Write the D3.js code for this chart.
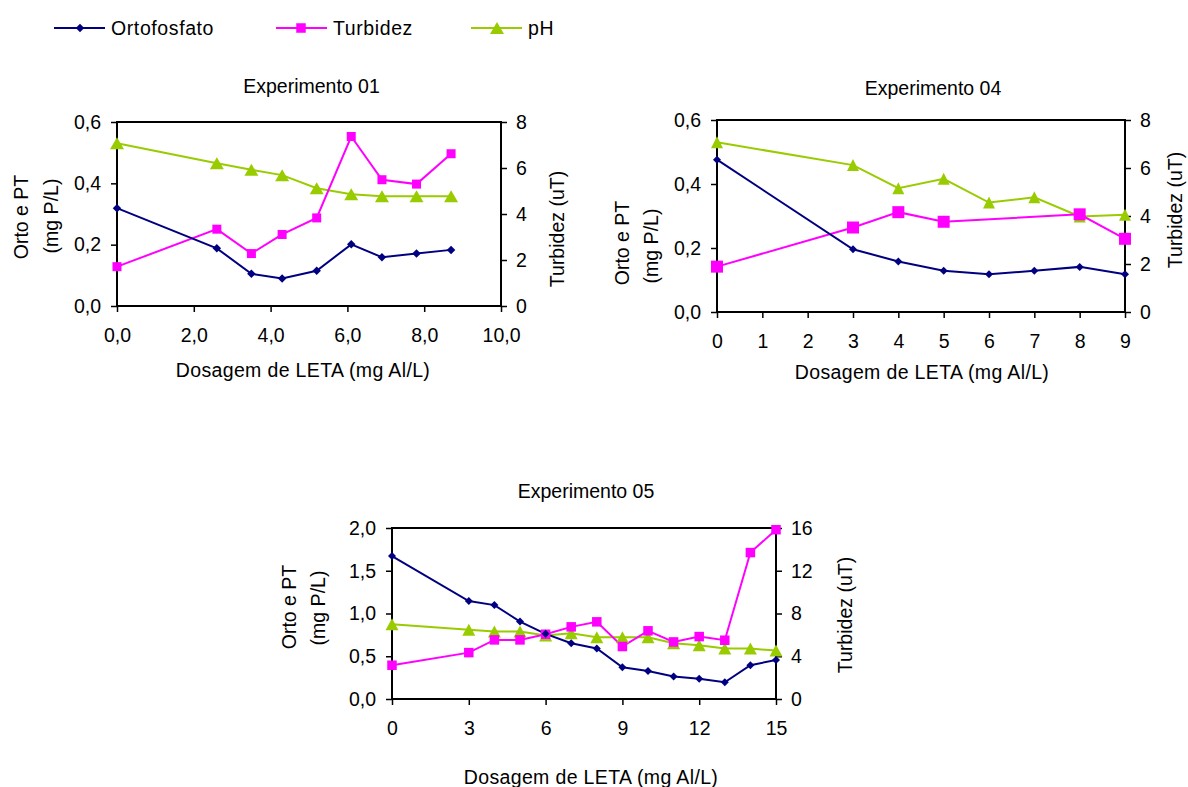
<!DOCTYPE html>
<html>
<head>
<meta charset="utf-8">
<script src="https://cdn.jsdelivr.net/npm/d3@7"></script>
<style>
  html, body { margin: 0; padding: 0; background: #fff; }
  svg { display: block; }
  text { font-family: "Liberation Sans", Arial, sans-serif; fill: #000; }
</style>
</head>
<body>
<svg id="chart" width="1188" height="787"></svg>
<script>
// ---------------- DATA ----------------
const seriesNames = ["Ortofosfato", "Turbidez", "pH"];
const chartTitles = ["Experimento 01", "Experimento 04", "Experimento 05"];
const xAxisTitle = "Dosagem de LETA (mg Al/L)";
const leftAxisTitle = ["Orto e PT", "(mg P/L)"];
const rightAxisTitle = "Turbidez (uT)";

// Experimento 01
const exp01Dose = [0, 2.6, 3.5, 4.3, 5.2, 6.1, 6.9, 7.8, 8.7];
const exp01Orto = [0.319, 0.188, 0.105, 0.090, 0.115, 0.201, 0.159, 0.171, 0.183];
const exp01Turb = [1.71, 3.34, 2.28, 3.11, 3.83, 7.37, 5.49, 5.30, 6.62];
const exp01PH   = [7.08, 6.21, 5.92, 5.69, 5.12, 4.86, 4.77, 4.77, 4.77];
const exp01XTicks = [0, 2, 4, 6, 8, 10];
const exp01LeftTicks = [0, 0.2, 0.4, 0.6];
const exp01RightTicks = [0, 2, 4, 6, 8];

// Experimento 04
const exp04Dose = [0, 3, 4, 5, 6, 7, 8, 9];
const exp04Orto = [0.476, 0.196, 0.158, 0.129, 0.118, 0.129, 0.141, 0.118];
const exp04TurbDose = [0, 3, 4, 5, 8, 9];
const exp04Turb = [1.89, 3.52, 4.16, 3.76, 4.07, 3.05];
const exp04PH   = [7.07, 6.12, 5.16, 5.55, 4.56, 4.78, 3.98, 4.05];
const exp04XTicks = [0, 1, 2, 3, 4, 5, 6, 7, 8, 9];
const exp04LeftTicks = [0, 0.2, 0.4, 0.6];
const exp04RightTicks = [0, 2, 4, 6, 8];

// Experimento 05
const exp05Dose = [0, 3, 4, 5, 6, 7, 8, 9, 10, 11, 12, 13, 14, 15];
const exp05Orto = [1.672, 1.145, 1.098, 0.906, 0.762, 0.652, 0.590, 0.371, 0.328, 0.262, 0.238, 0.195, 0.395, 0.457];
const exp05Turb = [3.16, 4.34, 5.53, 5.53, 6.06, 6.75, 7.22, 4.91, 6.38, 5.34, 5.84, 5.50, 13.70, 15.84];
const exp05PH   = [7.00, 6.47, 6.31, 6.31, 5.94, 6.16, 5.78, 5.78, 5.78, 5.22, 5.03, 4.72, 4.72, 4.53];
const exp05XTicks = [0, 3, 6, 9, 12, 15];
const exp05LeftTicks = [0, 0.5, 1.0, 1.5, 2.0];
const exp05RightTicks = [0, 4, 8, 12, 16];

// ---------------- STYLE ----------------
const COLORS = { orto: "#000080", turb: "#FF00FF", ph: "#99CC00" };
const FONT = 19.5;
const svg = d3.select("#chart");

const comma1 = d => d3.format(".1f")(d).replace(".", ",");
const intFmt = d => d3.format("d")(d);

function marker(g, type, x, y, size, color) {
  if (type === "diamond") {
    const h = size / 2;
    g.append("path").attr("d", `M${x},${y - h}L${x + h},${y}L${x},${y + h}L${x - h},${y}Z`).attr("fill", color);
  } else if (type === "square") {
    g.append("rect").attr("x", x - size / 2).attr("y", y - size / 2).attr("width", size).attr("height", size).attr("fill", color);
  } else {
    const w = size.w, h = size.h;
    g.append("path").attr("d", `M${x},${y - h / 2}L${x + w / 2},${y + h / 2}L${x - w / 2},${y + h / 2}Z`).attr("fill", color);
  }
}

function drawChart(cfg) {
  const g = svg.append("g");
  const x = d3.scaleLinear().domain(cfg.xDomain).range([cfg.x0, cfg.x1]);
  const yL = d3.scaleLinear().domain(cfg.leftDomain).range([cfg.y1, cfg.y0]);
  const yR = d3.scaleLinear().domain(cfg.rightDomain).range([cfg.y1, cfg.y0]);

  const ax = g.append("g").attr("transform", `translate(0,${cfg.y1})`)
    .call(d3.axisBottom(x).tickValues(cfg.xTicks).tickFormat(cfg.xFmt).tickSizeInner(6).tickSizeOuter(0).tickPadding(16));
  const al = g.append("g").attr("transform", `translate(${cfg.x0},0)`)
    .call(d3.axisLeft(yL).tickValues(cfg.leftTicks).tickFormat(comma1).tickSizeInner(6).tickSizeOuter(0).tickPadding(10));
  const ar = g.append("g").attr("transform", `translate(${cfg.x1},0)`)
    .call(d3.axisRight(yR).tickValues(cfg.rightTicks).tickFormat(intFmt).tickSizeInner(6).tickSizeOuter(0).tickPadding(9));
  [ax, al, ar].forEach(a => {
    a.attr("font-size", null).attr("font-family", null);
    a.select(".domain").remove();
    a.selectAll(".tick line").attr("stroke", "#000").attr("stroke-width", 1.5);
    a.selectAll(".tick text").style("font-size", FONT + "px").attr("fill", "#000");
  });

  g.append("rect").attr("x", cfg.x0).attr("y", cfg.y0)
    .attr("width", cfg.x1 - cfg.x0).attr("height", cfg.y1 - cfg.y0)
    .attr("fill", "none").attr("stroke", "#000").attr("stroke-width", 2);

  const line = (xs, ys, ysc) => d3.line().x((d, i) => x(xs[i])).y((d, i) => ysc(ys[i]))(ys);

  g.append("path").attr("d", line(cfg.phX, cfg.ph, yR)).attr("fill", "none").attr("stroke", COLORS.ph).attr("stroke-width", 2);
  g.append("path").attr("d", line(cfg.turbX, cfg.turb, yR)).attr("fill", "none").attr("stroke", COLORS.turb).attr("stroke-width", 2);
  g.append("path").attr("d", line(cfg.ortoX, cfg.orto, yL)).attr("fill", "none").attr("stroke", COLORS.orto).attr("stroke-width", 2);

  cfg.ph.forEach((v, i) => marker(g, "tri", x(cfg.phX[i]), yR(v), cfg.triSize, COLORS.ph));
  cfg.turb.forEach((v, i) => marker(g, "square", x(cfg.turbX[i]), yR(v), cfg.sqSize, COLORS.turb));
  cfg.orto.forEach((v, i) => marker(g, "diamond", x(cfg.ortoX[i]), yL(v), cfg.diaSize, COLORS.orto));

  g.append("text").attr("x", cfg.titlePos[0]).attr("y", cfg.titlePos[1]).attr("text-anchor", "middle")
    .style("font-size", FONT + "px").text(cfg.title);
  g.append("text").attr("x", cfg.xTitlePos[0]).attr("y", cfg.xTitlePos[1]).attr("text-anchor", "middle")
    .style("font-size", FONT + "px").style("letter-spacing", "0.35px").text(xAxisTitle);
  g.append("text").attr("transform", `translate(${cfg.lt1[0]},${cfg.lt1[1]}) rotate(-90)`).attr("text-anchor", "middle")
    .style("font-size", FONT + "px").text(leftAxisTitle[0]);
  g.append("text").attr("transform", `translate(${cfg.lt2[0]},${cfg.lt2[1]}) rotate(-90)`).attr("text-anchor", "middle")
    .style("font-size", FONT + "px").text(leftAxisTitle[1]);
  g.append("text").attr("transform", `translate(${cfg.rt[0]},${cfg.rt[1]}) rotate(-90)`).attr("text-anchor", "middle")
    .style("font-size", FONT + "px").text(rightAxisTitle);
}

drawChart({
  x0: 117, x1: 501, y0: 122, y1: 306,
  xDomain: [0, 10], leftDomain: [0, 0.6], rightDomain: [0, 8],
  xTicks: exp01XTicks, xFmt: comma1, leftTicks: exp01LeftTicks, rightTicks: exp01RightTicks,
  ortoX: exp01Dose, orto: exp01Orto, turbX: exp01Dose, turb: exp01Turb, phX: exp01Dose, ph: exp01PH,
  triSize: { w: 14, h: 12 }, sqSize: 9, diaSize: 8.5,
  title: chartTitles[0], titlePos: [311.5, 93],
  xTitlePos: [303, 377],
  lt1: [28, 217], lt2: [58, 216], rt: [564, 229]
});

drawChart({
  x0: 717, x1: 1125, y0: 120, y1: 312,
  xDomain: [0, 9], leftDomain: [0, 0.6], rightDomain: [0, 8],
  xTicks: exp04XTicks, xFmt: intFmt, leftTicks: exp04LeftTicks, rightTicks: exp04RightTicks,
  ortoX: exp04Dose, orto: exp04Orto, turbX: exp04TurbDose, turb: exp04Turb, phX: exp04Dose, ph: exp04PH,
  triSize: { w: 12, h: 12 }, sqSize: 12, diaSize: 8,
  title: chartTitles[1], titlePos: [933, 95],
  xTitlePos: [922, 379],
  lt1: [629, 243], lt2: [658, 246], rt: [1182, 210]
});

drawChart({
  x0: 392, x1: 776, y0: 528, y1: 699,
  xDomain: [0, 15], leftDomain: [0, 2], rightDomain: [0, 16],
  xTicks: exp05XTicks, xFmt: intFmt, leftTicks: exp05LeftTicks, rightTicks: exp05RightTicks,
  ortoX: exp05Dose, orto: exp05Orto, turbX: exp05Dose, turb: exp05Turb, phX: exp05Dose, ph: exp05PH,
  triSize: { w: 13, h: 12 }, sqSize: 9.5, diaSize: 8,
  title: chartTitles[2], titlePos: [586, 498],
  xTitlePos: [591, 784],
  lt1: [296, 607], lt2: [325, 608], rt: [852, 615]
});

// ---------------- LEGEND ----------------
const legendItems = [
  { name: seriesNames[0], color: COLORS.orto, type: "diamond", x0: 54, x1: 105, mx: 80, tx: 111 },
  { name: seriesNames[1], color: COLORS.turb, type: "square", x0: 276, x1: 327, mx: 301, tx: 333 },
  { name: seriesNames[2], color: COLORS.ph, type: "tri", x0: 471, x1: 522, mx: 497, tx: 528 }
];
const lg = svg.append("g");
legendItems.forEach(it => {
  lg.append("line").attr("x1", it.x0).attr("x2", it.x1).attr("y1", 28).attr("y2", 28)
    .attr("stroke", it.color).attr("stroke-width", 2);
  const size = it.type === "tri" ? { w: 14, h: 12 } : (it.type === "square" ? 9.5 : 8.5);
  marker(lg, it.type, it.mx, 28, size, it.color);
  lg.append("text").attr("x", it.tx).attr("y", 35).style("font-size", FONT + "px")
    .style("letter-spacing", "0.6px").text(it.name);
});
</script>
</body>
</html>
